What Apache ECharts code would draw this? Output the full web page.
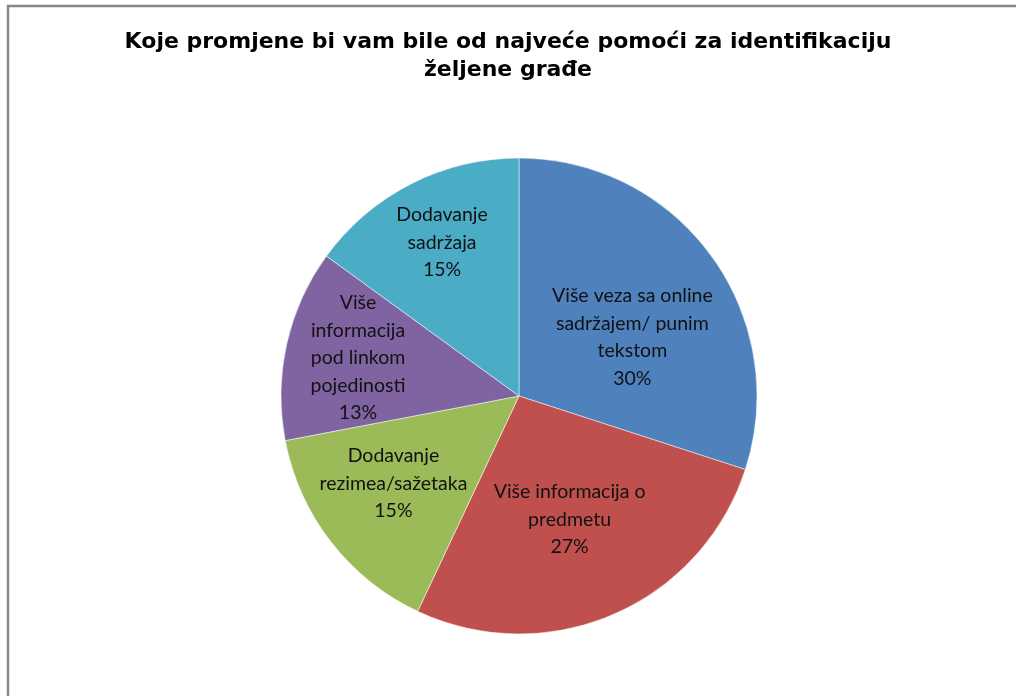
<!DOCTYPE html>
<html>
<head>
<meta charset="utf-8">
<script src="https://cdn.jsdelivr.net/npm/echarts@6/dist/echarts.min.js"></script>
<style>
    html, body { margin: 0; padding: 0; background: #fff; }
    #chart { width: 1016px; height: 696px; }
</style>
</head>
<body>
<div id="chart"></div>
<script>
// data
var categories = [
    'Više veza sa online\nsadržajem/ punim\ntekstom',
    'Više informacija o\npredmetu',
    'Dodavanje\nrezimea/sažetaka',
    'Više\ninformacija\npod linkom\npojedinosti',
    'Dodavanje\nsadržaja'
];
var values = [30, 27, 15, 13, 15];
var colors = ['#4F81BD', '#C0504D', '#9BBB59', '#8064A2', '#4BACC6'];

var titleText = 'Koje promjene bi vam bile od najveće pomoći za identifikaciju\nželjene građe';

// small pixel nudges so the labels sit where Excel put them
var labelNudge = [[-6, 28], [-8, -12], [-9, -3], [-17, -6], [-10, -22]];

document.addEventListener('DOMContentLoaded', function () {
    var cx = 519, cy = 396, r = 238;
    var total = values.reduce(function (a, b) { return a + b; }, 0);

    // label sits on the slice bisector, further out than echarts' default
    function labelPos(idx) {
        var before = 0;
        for (var i = 0; i < idx; i++) before += values[i];
        var mid = (before + values[idx] / 2) / total * Math.PI * 2;
        var d = r * 0.62;
        return {
            x: cx + d * Math.sin(mid) + labelNudge[idx][0],
            y: cy - d * Math.cos(mid) + labelNudge[idx][1]
        };
    }

    var chartDom = document.getElementById('chart');
    var myChart = echarts.init(chartDom);
    var option = {
        animation: false,
        title: {
            text: titleText,
            left: 'center',
            top: 23,
            textStyle: {
                fontFamily: 'DejaVu Sans',
                fontWeight: 'bold',
                fontSize: 22,
                lineHeight: 28,
                color: '#000'
            }
        },
        graphic: [{
            type: 'rect',
            shape: { x: 8, y: 6, width: 1040, height: 720 },
            style: { fill: 'none', stroke: '#868686', lineWidth: 2.5 },
            silent: true
        }],
        series: [{
            type: 'pie',
            center: [cx, cy],
            radius: r,
            startAngle: 90,
            clockwise: true,
            data: categories.map(function (c, i) {
                return { name: c, value: values[i], itemStyle: { color: colors[i] } };
            }),
            itemStyle: { borderColor: '#fff', borderWidth: 0.5 },
            label: {
                position: 'inside',
                formatter: function (p) {
                    return p.name + '\n' + Math.round(p.percent) + '%';
                },
                fontFamily: 'Lato, Open Sans, sans-serif',
                fontSize: 19.5,
                lineHeight: 27.5,
                color: '#111',
                align: 'center'
            },
            labelLayout: function (params) {
                var p = labelPos(params.dataIndex);
                return { x: p.x, y: p.y, align: 'center', verticalAlign: 'middle' };
            },
            emphasis: { disabled: true }
        }]
    };
    myChart.setOption(option);
    window.addEventListener('resize', function () {
        myChart.resize();
    });
});
</script>
</body>
</html>
